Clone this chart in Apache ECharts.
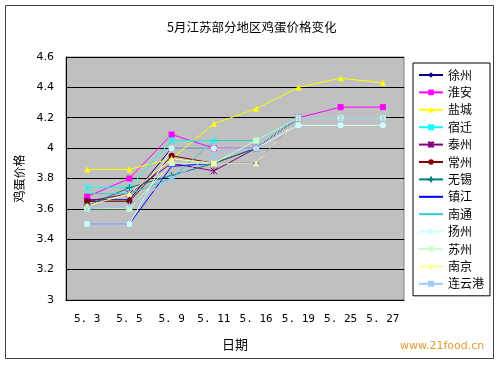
<!DOCTYPE html>
<html><head><meta charset="utf-8">
<script src="https://cdn.jsdelivr.net/npm/echarts@6/dist/echarts.min.js"></script>
<style>html,body{margin:0;padding:0;background:#fff}#c{width:500px;height:365px}</style>
</head><body><div id="c"></div>
<script>
var categories = ['5.3','5.5','5.9','5.11','5.16','5.19','5.25','5.27'];
var yTicks = [3, 3.2, 3.4, 3.6, 3.8, 4, 4.2, 4.4, 4.6];
var names = ['徐州','淮安','盐城','宿迁','泰州','常州','无锡','镇江','南通','扬州','苏州','南京','连云港'];
var xuzhou    = [3.66, 3.66, 4.00, 4.00, 4.00, 4.20, null, null];
var huaian    = [3.68, 3.80, 4.09, 4.00, 4.00, 4.20, 4.27, 4.27];
var yancheng  = [3.86, 3.86, 3.93, 4.16, 4.26, 4.40, 4.46, 4.43];
var suqian    = [3.74, 3.74, 4.05, 4.05, 4.05, 4.20, null, null];
var taizhou   = [3.65, 3.70, 3.90, 3.85, 4.00, 4.20, null, null];
var changzhou = [3.65, 3.65, 3.95, 3.90, 4.00, 4.20, null, null];
var wuxi      = [3.62, 3.74, 3.82, 3.90, 4.00, 4.20, null, null];
var zhenjiang = [3.50, 3.50, 3.88, 3.90, 3.90, 4.20, null, null];
var nantong   = [3.70, 3.70, 3.80, 4.05, 4.05, 4.20, null, null];
var yangzhou  = [3.50, 3.50, 4.00, 4.00, 4.00, 4.15, 4.15, 4.15];
var suzhou    = [3.60, 3.60, 3.90, 3.90, 4.05, 4.20, 4.20, 4.20];
var nanjing   = [3.62, 3.70, 3.93, 3.90, 3.90, 4.20, null, null];
var lianyungang=[3.60, 3.62, 3.80, 3.95, 4.00, 4.20, 4.20, 4.20];
var values = [xuzhou, huaian, yancheng, suqian, taizhou, changzhou, wuxi, zhenjiang, nantong, yangzhou, suzhou, nanjing, lianyungang];

var colors = ['#000080','#ff00ff','#ffff00','#00ffff','#800080','#800000','#008080','#0000ff','#33cccc','#ccffff','#ccffcc','#ffff99','#99ccff'];
var STAR = 'path://M0,0L10,10M10,0L0,10M5,0L5,10';
var CROSS = 'path://M5,0L5,10M0,5L10,5';
var DASH = 'path://M0,0L0.01,0L0,0.01ZM0,4.3L10,4.3L10,5.7L0,5.7ZM10,10L9.99,10L10,9.99Z';
var symbols = ['diamond','rect','triangle',STAR,STAR,'circle',CROSS,DASH,DASH,'circle','rect','triangle',STAR];
var lineSym = {};
lineSym[STAR]=1; lineSym[CROSS]=1;

var chart = echarts.init(document.getElementById('c'));
var series = names.map(function(n,i){
  var isLine = lineSym[symbols[i]];
  return {
    name:n, type:'line', data: values[i], symbol: symbols[i], symbolSize: isLine?7:6,
    connectNulls:false, animation:false,
    lineStyle:{color:colors[i], width:1},
    itemStyle:{color: isLine ? 'rgba(0,0,0,0)' : colors[i], borderColor: colors[i], borderWidth: isLine?1:0}
  };
});
chart.setOption({
  animation:false,
  backgroundColor:'#ffffff',
  color: colors,
  title:{text:'5月江苏部分地区鸡蛋价格变化', left:162, top:16,
    textStyle:{fontSize:12.5, fontWeight:'normal', color:'#000', fontFamily:'Noto Sans CJK SC'}},
  grid:{left:66, right:96, top:57, bottom:65, show:true, backgroundColor:'#c0c0c0', borderColor:'#808080', borderWidth:1},
  legend:{orient:'vertical', left:413, top:63, itemWidth:24, itemHeight:7, itemGap:5.4,
    padding:[6,6,6,5], borderColor:'#000', borderWidth:1,
    textStyle:{fontSize:12, color:'#000', fontFamily:'Noto Sans CJK SC'}},
  xAxis:{type:'category', data:categories, boundaryGap:true, name:'日期', nameLocation:'middle', nameGap:38,
    nameTextStyle:{fontSize:13, color:'#000', fontFamily:'Noto Sans CJK SC'},
    axisLine:{lineStyle:{color:'#000'}}, axisTick:{inside:true, length:4, lineStyle:{color:'#000'}},
    axisLabel:{interval:0, color:'#000', fontSize:11, margin:14, fontFamily:'DejaVu Sans Mono',
      formatter:function(v){return v.replace('.', '. ');}}},
  yAxis:{type:'value', min:3, max:4.6, interval:0.2, name:'鸡蛋价格', nameLocation:'middle', nameGap:40,
    nameRotate:90, nameTextStyle:{fontSize:12, color:'#000', fontFamily:'Noto Sans CJK SC'},
    axisLine:{show:true, lineStyle:{color:'#000'}}, axisTick:{show:false},
    axisLabel:{color:'#000', fontSize:11, margin:12, fontFamily:'DejaVu Sans',
      formatter:function(v){return String(+v.toFixed(1));}},
    splitLine:{lineStyle:{color:'#000', width:1}}},
  graphic:[
    {type:'rect', shape:{x:5.5, y:5.5, width:488, height:353}, style:{fill:null, stroke:'#404040', lineWidth:1}, z:-1},
    {type:'text', left:400, top:341, style:{text:'www.21food.cn', fill:'#e39b2e', fontSize:11, fontFamily:'DejaVu Sans'}}
  ],
  series: series
});
</script></body></html>
